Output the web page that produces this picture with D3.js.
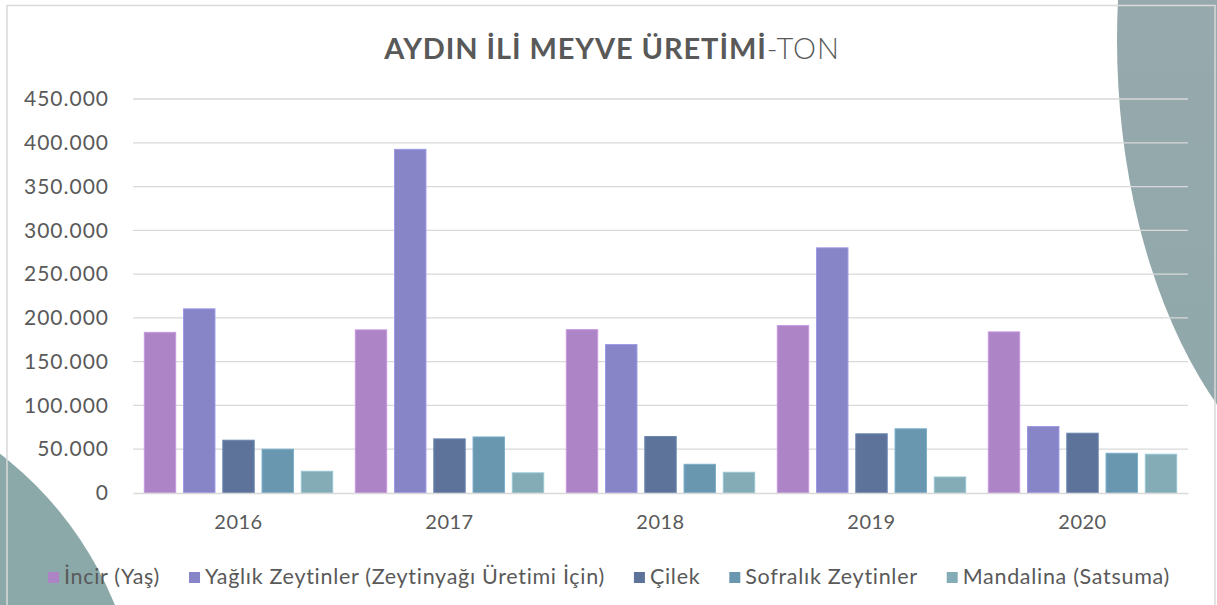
<!DOCTYPE html>
<html lang="tr">
<head>
<meta charset="UTF-8">
<title>Aydın İli Meyve Üretimi</title>
<script src="https://cdn.jsdelivr.net/npm/d3@7"></script>
<style>
  html, body { margin: 0; padding: 0; background: #fff; }
  svg { display: block; font-family: Lato, "Noto Sans", sans-serif; }
</style>
</head>
<body>
<div id="chart"></div>
<script>
// values (ton)
const years = ["2016", "2017", "2018", "2019", "2020"];
const seriesNames = ["İncir (Yaş)", "Yağlık Zeytinler (Zeytinyağı Üretimi İçin)", "Çilek", "Sofralık Zeytinler", "Mandalina (Satsuma)"];
const incir = [183500, 186300, 186600, 191200, 184000];
const yaglikZeytin = [210300, 392500, 169500, 280000, 75900];
const cilek = [60300, 61800, 64500, 67600, 68300];
const sofralikZeytin = [50000, 64000, 32800, 73300, 45400];
const mandalina = [24800, 23000, 23700, 18300, 44300];
const seriesColors = ["#ad84c6", "#8784c7", "#5d739a", "#6997af", "#84acb6"];
const yTicks = [0, 50000, 100000, 150000, 200000, 250000, 300000, 350000, 400000, 450000];

const allSeries = [incir, yaglikZeytin, cilek, sofralikZeytin, mandalina];

const W = 1217, H = 605;
const margin = {top: 99, right: 29, bottom: 112, left: 133};
const innerW = W - margin.left - margin.right,
      innerH = H - margin.top - margin.bottom;

const svg = d3.select("#chart").append("svg")
    .attr("width", W)
    .attr("height", H);

// decorative background shapes
const defs = svg.append("defs");
const grad = defs.append("linearGradient")
    .attr("id", "trGrad").attr("x1", 0).attr("y1", 0).attr("x2", 0).attr("y2", 1);
grad.append("stop").attr("offset", "0%").attr("stop-color", "#9eaab0");
grad.append("stop").attr("offset", "100%").attr("stop-color", "#8ea8aa");

svg.append("ellipse")
    .attr("cx", 1400).attr("cy", 40)
    .attr("rx", 283).attr("ry", 478)
    .attr("fill", "url(#trGrad)");

svg.append("circle")
    .attr("cx", -220).attr("cy", 740)
    .attr("r", 361)
    .attr("fill", "#8ba9a9");

// chart area border
svg.append("rect")
    .attr("x", 7).attr("y", 5.5)
    .attr("width", 1208).attr("height", 620)
    .attr("fill", "none")
    .attr("stroke", "#d9d9d9")
    .attr("stroke-width", 1.5);

const g = svg.append("g").attr("transform", `translate(${margin.left},${margin.top})`);

// scales
const x0 = d3.scaleBand().domain(years).range([0, innerW]);
const x1 = d3.scaleBand()
    .domain(d3.range(seriesNames.length))
    .range([11.3, x0.bandwidth() - 11.3])
    .paddingInner(0.2);
const y = d3.scaleLinear().domain([0, 450000]).range([innerH, 0]);

const trFormat = d3.formatLocale({decimal: ",", thousands: ".", grouping: [3], currency: ["", " ₺"]}).format(",.0f");

// gridlines
g.append("g")
    .selectAll("line")
    .data(yTicks.slice(1))
    .join("line")
    .attr("x1", 0).attr("x2", innerW)
    .attr("y1", d => y(d)).attr("y2", d => y(d))
    .attr("stroke", "#d9d9d9")
    .attr("stroke-width", 1.3);

// bars
const rows = years.map((yr, i) => ({year: yr, values: allSeries.map(s => s[i])}));

g.append("g")
    .selectAll("g")
    .data(rows)
    .join("g")
    .attr("transform", d => `translate(${x0(d.year)},0)`)
    .selectAll("rect")
    .data(d => d.values.map((v, k) => ({k, v})))
    .join("rect")
    .attr("x", d => x1(d.k))
    .attr("y", d => y(d.v))
    .attr("width", x1.bandwidth())
    .attr("height", d => y(0) - y(d.v))
    .attr("fill", d => seriesColors[d.k])
    .attr("stroke", d => d3.color(seriesColors[d.k]).brighter(0.4))
    .attr("stroke-width", 1);

// x axis
const xAxis = g.append("g")
    .attr("transform", `translate(0,${innerH})`)
    .call(d3.axisBottom(x0).tickSize(0).tickPadding(22));
xAxis.select(".domain").attr("stroke", "#d9d9d9").attr("stroke-width", 1.5);
xAxis.selectAll("text")
    .attr("fill", "#595959")
    .style("font-size", "20px")
    .style("letter-spacing", "0.5px")
    .style("font-family", "Lato, sans-serif");

// y axis
const yAxis = g.append("g")
    .call(d3.axisLeft(y).tickValues(yTicks).tickFormat(trFormat).tickSize(0).tickPadding(24));
yAxis.select(".domain").remove();
yAxis.selectAll("text")
    .attr("fill", "#595959")
    .style("font-size", "21px")
    .style("letter-spacing", "1px")
    .style("font-family", "Lato, sans-serif");

// title
const title = svg.append("text")
    .attr("x", 612)
    .attr("y", 59)
    .attr("text-anchor", "middle")
    .attr("fill", "#595959")
    .style("font-size", "29px")
    .style("letter-spacing", "0.9px");
title.append("tspan").attr("font-weight", "bold").text("AYDIN İLİ MEYVE ÜRETİMİ");
title.append("tspan").attr("font-weight", 300).text("-TON");

// legend
const legend = svg.append("g");
const items = legend.selectAll("g")
    .data(seriesNames)
    .join("g");
items.append("rect")
    .attr("width", 11).attr("height", 11)
    .attr("y", -12)
    .attr("fill", (d, i) => seriesColors[i]);
items.append("text")
    .attr("x", 16)
    .attr("y", 0)
    .attr("fill", "#595959")
    .style("font-size", "21.5px")
    .style("letter-spacing", "0.7px")
    .text(d => d);

let cursor = 0;
items.each(function() {
    const w = this.querySelector("text").getComputedTextLength();
    d3.select(this).attr("transform", `translate(${cursor},0)`);
    cursor += 16 + w + 29;
});
const legendW = cursor - 29;
legend.attr("transform", `translate(${609 - legendW / 2},584)`);
</script>
</body>
</html>
